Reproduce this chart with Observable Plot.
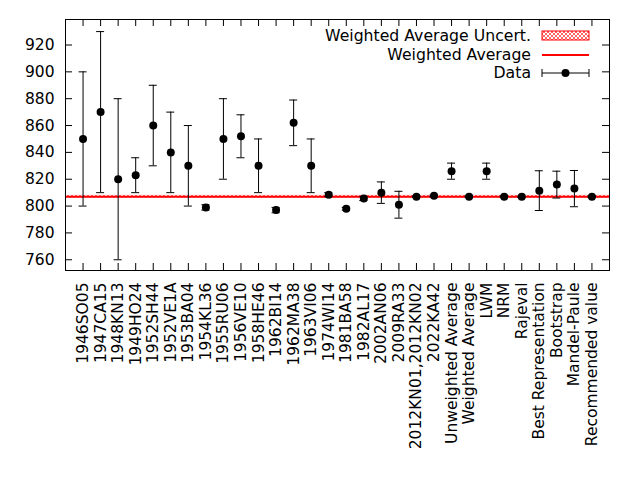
<!DOCTYPE html>
<html>
<head>
<meta charset="utf-8">
<script src="https://cdn.jsdelivr.net/npm/d3@7"></script>
<script src="https://cdn.jsdelivr.net/npm/@observablehq/plot@0.6"></script>
<style>
  html, body { margin: 0; padding: 0; background: white; }
  svg { font-family: "DejaVu Sans", sans-serif; }
</style>
</head>
<body>
<div id="chart"></div>
<script>
const names = ["1946SO05","1947CA15","1948KN13","1949HO24","1952SH44","1952VE1A","1953BA04","1954KL36","1955RU06","1956VE10","1958HE46","1962BI14","1962MA38","1963VI06","1974WI14","1981BA58","1982AL17","2002AN06","2009RA33","2012KN01,2012KN02","2022KA42","Unweighted Average","Weighted Average","LWM","NRM","Rajeval","Best Representation","Bootstrap","Mandel-Paule","Recommended value"];
const values = [850, 870, 820, 823, 860, 840, 830, 799, 850, 852, 830, 797, 862, 830, 808.5, 798, 805.6, 810, 801, 807, 807.6, 826, 807, 826, 807, 807, 811.5, 816, 813, 807];
const errors = [50, 60, 60, 13, 30, 30, 30, 2, 30, 16, 20, 2, 17, 20, 1.5, 1, 1.5, 8, 10, 0.5, 0.5, 6, 0.5, 6, 0.5, 0.5, 14.8, 10, 13.5, 0.5];
const yTicks = [760, 780, 800, 820, 840, 860, 880, 900, 920];
const yDomain = [752, 939];
const weightedAverage = 807;
const weightedAverageUnc = 1;
const legendLabels = ["Weighted Average Uncert.", "Weighted Average", "Data"];

const table = names.map((n, i) => ({name: n, v: values[i], lo: values[i] - errors[i], hi: values[i] + errors[i]}));

const W = 640, H = 480, ML = 65, MR = 31, MT = 19, MB = 210;
const FW = W - ML - MR, FH = H - MT - MB;
const TICK = 7;
const STEP = FW / (names.length + 1);
const CAP = 4;

function legend(index, scales, values, dims) {
  const g = d3.create("svg:g");
  const defs = g.append("defs");
  const pat = defs.append("pattern").attr("id", "hatch").attr("width", 4).attr("height", 4).attr("patternUnits", "userSpaceOnUse");
  pat.append("rect").attr("width", 4).attr("height", 4).attr("fill", "white");
  pat.append("path").attr("d", "M0,0L4,4M4,0L0,4").attr("stroke", "#ff4040").attr("stroke-width", 0.8);
  const right = dims.width - dims.marginRight;
  const top = dims.marginTop;
  const rowY = [top + 17, top + 36, top + 54];
  const x0 = right - 67, x1 = right - 20;
  g.selectAll("text").data(legendLabels).join("text")
    .attr("x", right - 78).attr("y", (d, i) => rowY[i])
    .attr("text-anchor", "end").attr("dy", "0.35em")
    .attr("font-size", 15.7).attr("fill", "black").text(d => d);
  g.append("rect").attr("x", x0).attr("y", rowY[0] - 5).attr("width", x1 - x0).attr("height", 9)
    .attr("fill", "url(#hatch)").attr("stroke", "red").attr("stroke-width", 1);
  g.append("line").attr("x1", x0).attr("x2", x1).attr("y1", rowY[1]).attr("y2", rowY[1])
    .attr("stroke", "red").attr("stroke-width", 2);
  g.append("line").attr("x1", x0).attr("x2", x1).attr("y1", rowY[2]).attr("y2", rowY[2])
    .attr("stroke", "black").attr("stroke-width", 1);
  [x0, x1].forEach(x => g.append("line").attr("x1", x).attr("x2", x).attr("y1", rowY[2] - 4).attr("y2", rowY[2] + 4).attr("stroke", "black"));
  g.append("circle").attr("cx", (x0 + x1) / 2).attr("cy", rowY[2]).attr("r", 4).attr("fill", "black");
  return g.node();
}

const capInset = (STEP * 0.5) / 2 - CAP;

const chart = Plot.plot({
  width: W, height: H,
  marginLeft: ML, marginRight: MR, marginTop: MT, marginBottom: MB,
  style: {fontFamily: "DejaVu Sans, sans-serif", background: "white"},
  x: {type: "band", domain: names, paddingInner: 0.5, paddingOuter: 0.75, round: false, axis: null, label: null},
  y: {domain: yDomain, axis: null, label: null},
  marks: [
    Plot.rect([weightedAverage], {y1: d => d - weightedAverageUnc, y2: d => d + weightedAverageUnc, fill: "url(#hatch)"}),
    Plot.ruleY([weightedAverage], {stroke: "red", strokeWidth: 2}),
    Plot.ruleX(table, {x: "name", y1: "lo", y2: "hi", stroke: "black", strokeWidth: 1}),
    Plot.tickY(table, {x: "name", y: "lo", insetLeft: capInset, insetRight: capInset, stroke: "black"}),
    Plot.tickY(table, {x: "name", y: "hi", insetLeft: capInset, insetRight: capInset, stroke: "black"}),
    Plot.dot(table, {x: "name", y: "v", r: 4, fill: "black", stroke: "none"}),
    // inward ticks
    Plot.ruleY(yTicks, {y: d => d, insetRight: FW - TICK, stroke: "black"}),
    Plot.ruleY(yTicks, {y: d => d, insetLeft: FW - TICK, stroke: "black"}),
    Plot.ruleX(names, {x: d => d, insetTop: FH - TICK, stroke: "black"}),
    Plot.ruleX(names, {x: d => d, insetBottom: FH - TICK, stroke: "black"}),
    Plot.axisY(yTicks, {tickSize: 0, tickPadding: 11, fontSize: 15.5, label: null, tickFormat: d => String(d)}),
    Plot.axisX(names, {tickSize: 0, tickRotate: -90, tickPadding: 12, fontSize: 15.5, label: null}),
    Plot.frame({stroke: "black", strokeWidth: 1}),
    legend
  ]
});
document.getElementById("chart").appendChild(chart);
</script>
</body>
</html>
